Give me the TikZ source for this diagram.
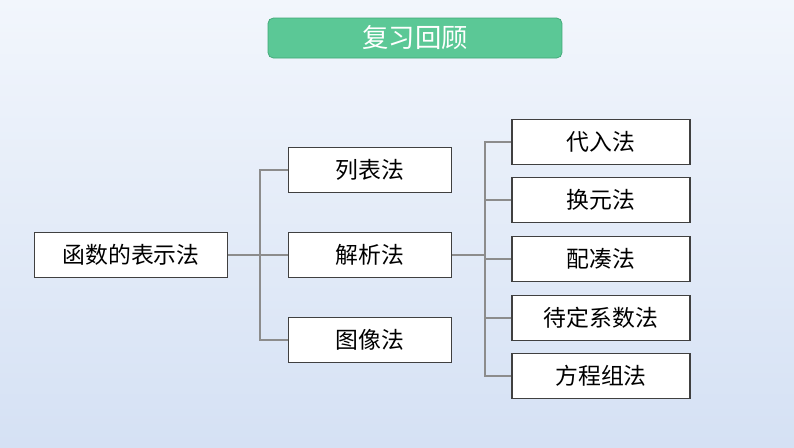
\documentclass[tikz,border=0pt]{standalone}
\usepackage{fontspec}
\setmainfont{Noto Sans CJK SC}
\usetikzlibrary{positioning}
\definecolor{bgtop}{HTML}{F2F6FC}
\definecolor{bgbot}{HTML}{D5E1F4}
\definecolor{titlegreen}{HTML}{5BC896}
\definecolor{titleedge}{HTML}{3FA776}
\definecolor{linegray}{HTML}{8C8C8C}
\tikzset{
  item/.style={draw=black!75, fill=white, line width=0.8pt, minimum height=0.89cm,
    font=\fontsize{13}{15}\selectfont, inner sep=0pt},
  midbox/.style={item, minimum width=3.26cm},
  rightbox/.style={item, minimum width=3.56cm},
  link/.style={draw=linegray, line width=0.6pt}
}
\begin{document}
\begin{tikzpicture}[x=0.02cm, y=-0.02cm]
	% Background
	\shade[top color=bgtop, bottom color=bgbot] (0, 0) rectangle (794, 447);
	\useasboundingbox (0, 0) rectangle (794, 447);
	
	% Title
	\node[draw=titleedge, fill=titlegreen, rounded corners=3pt, minimum width=5.88cm,
	  minimum height=0.8cm, text=white, font=\fontsize{15}{17}\selectfont] (title) at (415, 38) {复习回顾};
	
	% Boxes
	\node[item, minimum width=3.86cm] (root) at (131, 255) {函数的表示法};
	\node[midbox] (table) at (370, 170) {列表法};
	\node[midbox] (formula) at (370, 255) {解析法};
	\node[midbox] (graph) at (370, 340) {图像法};
	\node[rightbox] (subst) at (601, 142) {代入法};
	\node[rightbox] (change) at (601, 200) {换元法};
	\node[rightbox] (complete) at (601, 259) {配凑法};
	\node[rightbox] (undet) at (601, 318) {待定系数法};
	\node[rightbox] (system) at (601, 376) {方程组法};
	
	% Connectors
	\coordinate (j1) at (260, 255);
	\coordinate (j2) at (485, 255);
	\draw[link] (root.east) -- (j1);
	\foreach \n in {table, formula, graph}
		\draw[link] (j1) |- (\n.west);
	\draw[link] (formula.east) -- (j2);
	\foreach \n in {subst, change, complete, undet, system}
		\draw[link] (j2) |- (\n.west);
\end{tikzpicture}
\end{document}
